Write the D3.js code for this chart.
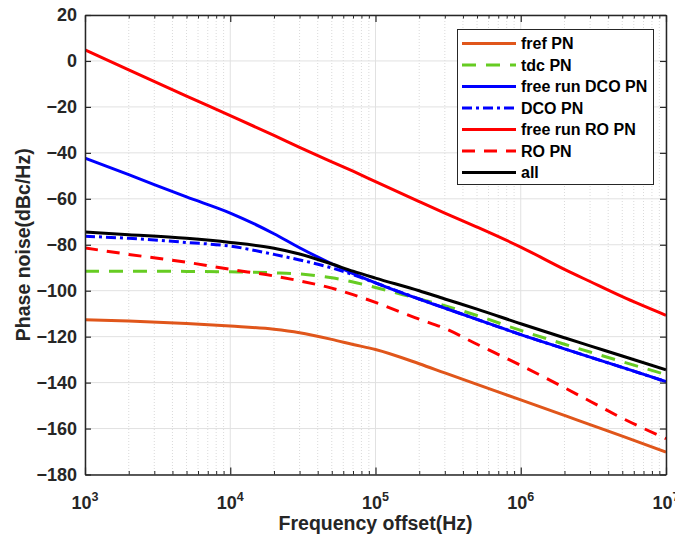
<!DOCTYPE html>
<html>
<head>
<meta charset="utf-8">
<script src="https://cdn.jsdelivr.net/npm/d3@7"></script>
<style>
  html, body { margin: 0; padding: 0; background: #ffffff; }
  svg { display: block; }
  text { font-family: "Liberation Sans", Arial, Helvetica, sans-serif; font-weight: bold; }
</style>
</head>
<body>
<svg id="chart" width="675" height="538"></svg>
<script>
// ---------------- data ----------------
const freq = [1e3, 2e3, 5e3, 1e4, 2e4, 3e4, 5e4, 7e4, 1e5, 2e5, 3e5, 5e5, 1e6, 2e6, 3e6, 5e6, 1e7];

const frefPN      = [-112.6, -113.2, -114.3, -115.4, -116.8, -118.3, -121.2, -123.4, -125.6, -131.8, -135.8, -140.8, -147.5, -154.3, -158.3, -163.3, -170.3];
const tdcPN       = [-91.5, -91.5, -91.6, -91.8, -92.2, -92.7, -94.4, -96.2, -98.6, -103.6, -106.5, -110.8, -117.3, -123.3, -126.7, -130.9, -136.5];
const freeDcoPN   = [-42.3, -49.5, -59.2, -66.2, -75.2, -81.3, -88.3, -92.6, -96.6, -103.7, -107.6, -112.5, -119.1, -125.3, -128.9, -133.4, -139.6];
const dcoPN       = [-76.3, -77.2, -79.0, -80.6, -84.2, -86.6, -90.1, -93.0, -96.6, -103.6, -107.5, -112.5, -119.1, -125.3, -128.9, -133.4, -139.6];
const freeRoPN    = [4.8, -3.9, -15.3, -23.8, -32.4, -37.6, -43.9, -48.0, -52.5, -61.2, -66.2, -72.3, -81.0, -90.7, -96.0, -102.6, -110.7];
const roPN        = [-81.4, -84.2, -87.6, -90.7, -93.6, -95.7, -98.9, -101.7, -105.1, -112.4, -116.4, -123.3, -132.5, -142.2, -148.1, -155.5, -164.4];
const allPN       = [-74.5, -75.6, -77.2, -79.0, -81.5, -84.0, -88.4, -91.5, -94.5, -100.0, -103.6, -108.0, -114.4, -120.5, -124.0, -128.4, -134.4];

const seriesNames = ["fref PN", "tdc PN", "free run DCO PN", "DCO PN", "free run RO PN", "RO PN", "all"];
const seriesData  = [frefPN, tdcPN, freeDcoPN, dcoPN, freeRoPN, roPN, allPN];
const seriesColors = ["#E0561B", "#66CC22", "#0000FF", "#0000FF", "#FF0000", "#FF0000", "#000000"];
const seriesDash   = [null, "14,10", null, "10,4,3,4", null, "13,9", null];

const yTicks = [20, 0, -20, -40, -60, -80, -100, -120, -140, -160, -180];
const xDecades = [1e3, 1e4, 1e5, 1e6, 1e7];
const xExponents = ["3", "4", "5", "6", "7"];
const xLabel = "Frequency offset(Hz)";
const yLabel = "Phase noise(dBc/Hz)";

// ---------------- layout ----------------
const W = 675, H = 538;
const L = 85, R = 666, T = 15, B = 474.5;
const axisColor = "#262626";

const svg = d3.select("#chart");
svg.append("rect").attr("width", W).attr("height", H).attr("fill", "#ffffff");

const x = d3.scaleLog().domain([1e3, 1e7]).range([L, R]);
const y = d3.scaleLinear().domain([-180, 20]).range([B, T]);

// minor values
const minorX = [];
for (let e = 3; e < 7; e++) for (let k = 2; k <= 9; k++) minorX.push(k * Math.pow(10, e));

// ---------------- grid ----------------
const grid = svg.append("g");
grid.selectAll(".gxm").data(minorX).enter().append("line")
  .attr("x1", d => x(d)).attr("x2", d => x(d)).attr("y1", T).attr("y2", B)
  .attr("stroke", "#d0d0d0").attr("stroke-width", 0.8).attr("stroke-dasharray", "1,2");
grid.selectAll(".gx").data(xDecades).enter().append("line")
  .attr("x1", d => x(d)).attr("x2", d => x(d)).attr("y1", T).attr("y2", B)
  .attr("stroke", "#e1e1e1").attr("stroke-width", 1);
grid.selectAll(".gy").data(yTicks).enter().append("line")
  .attr("x1", L).attr("x2", R).attr("y1", d => y(d)).attr("y2", d => y(d))
  .attr("stroke", "#e1e1e1").attr("stroke-width", 1);

// ---------------- lines ----------------
svg.append("defs").append("clipPath").attr("id", "clip")
  .append("rect").attr("x", L).attr("y", T).attr("width", R - L).attr("height", B - T);

const line = d3.line().x(d => x(d[0])).y(d => y(d[1])).curve(d3.curveMonotoneX);
const plotG = svg.append("g").attr("clip-path", "url(#clip)");
seriesData.forEach((vals, i) => {
  const pts = freq.map((f, j) => [f, vals[j]]);
  plotG.append("path").datum(pts)
    .attr("d", line)
    .attr("fill", "none")
    .attr("stroke", seriesColors[i])
    .attr("stroke-width", 3)
    .attr("stroke-linejoin", "round")
    .attr("stroke-dasharray", seriesDash[i]);
});

// ---------------- axes ----------------
function styleAxis(g) {
  g.select(".domain").attr("stroke", axisColor).attr("stroke-width", 1.5);
  g.selectAll(".tick line").attr("stroke", axisColor).attr("stroke-width", 1.2);
}

// left
const gl = svg.append("g").attr("transform", `translate(${L},0)`)
  .call(d3.axisLeft(y).tickValues(yTicks).tickSizeInner(-6).tickSizeOuter(0).tickPadding(8));
styleAxis(gl);
gl.selectAll(".tick text").attr("font-size", 18).attr("fill", axisColor)
  .attr("font-family", "'Liberation Sans', Arial, sans-serif").attr("font-weight", "bold");

// right
const gr = svg.append("g").attr("transform", `translate(${R},0)`)
  .call(d3.axisRight(y).tickValues(yTicks).tickSizeInner(-6).tickSizeOuter(0).tickFormat(""));
styleAxis(gr);

// bottom
const gb = svg.append("g").attr("transform", `translate(0,${B})`)
  .call(d3.axisBottom(x).tickValues(xDecades).tickSizeInner(-7).tickSizeOuter(0).tickFormat(""));
styleAxis(gb);
const gbm = svg.append("g").attr("transform", `translate(0,${B})`)
  .call(d3.axisBottom(x).tickValues(minorX).tickSizeInner(-3.5).tickSizeOuter(0).tickFormat(""));
gbm.select(".domain").remove();
gbm.selectAll(".tick line").attr("stroke", axisColor).attr("stroke-width", 1);

// top
const gt = svg.append("g").attr("transform", `translate(0,${T})`)
  .call(d3.axisTop(x).tickValues(xDecades).tickSizeInner(-7).tickSizeOuter(0).tickFormat(""));
styleAxis(gt);
const gtm = svg.append("g").attr("transform", `translate(0,${T})`)
  .call(d3.axisTop(x).tickValues(minorX).tickSizeInner(-3.5).tickSizeOuter(0).tickFormat(""));
gtm.select(".domain").remove();
gtm.selectAll(".tick line").attr("stroke", axisColor).attr("stroke-width", 1);

// x tick labels with superscripts
xDecades.forEach((d, i) => {
  const t = svg.append("text")
    .attr("x", x(d)).attr("y", B + 34)
    .attr("text-anchor", "middle")
    .attr("fill", axisColor)
    .attr("font-size", 18);
  t.append("tspan").text("10");
  t.append("tspan").attr("dy", -8).attr("font-size", 12.5).text(xExponents[i]);
});

// axis labels
svg.append("text")
  .attr("x", (L + R) / 2).attr("y", 530)
  .attr("text-anchor", "middle")
  .attr("font-size", 19.5).attr("fill", axisColor)
  .text(xLabel);
svg.append("text")
  .attr("transform", `translate(30,${(T + B) / 2}) rotate(-90)`)
  .attr("text-anchor", "middle")
  .attr("font-size", 19.5).attr("fill", axisColor)
  .text(yLabel);

// ---------------- legend ----------------
const lg = svg.append("g");
lg.append("rect").attr("x", 457.5).attr("y", 29.5).attr("width", 196).attr("height", 155)
  .attr("fill", "#ffffff").attr("stroke", "#262626").attr("stroke-width", 1);
const rowY0 = 43.5, rowH = 21.5;
seriesNames.forEach((name, i) => {
  const yy = rowY0 + i * rowH;
  lg.append("line").attr("x1", 462).attr("x2", 516).attr("y1", yy).attr("y2", yy)
    .attr("stroke", seriesColors[i]).attr("stroke-width", 3)
    .attr("stroke-dasharray", seriesDash[i]);
  lg.append("text").attr("x", 521).attr("y", yy + 5.5)
    .attr("font-size", 16).attr("fill", "#000000").text(name);
});
</script>
</body>
</html>
